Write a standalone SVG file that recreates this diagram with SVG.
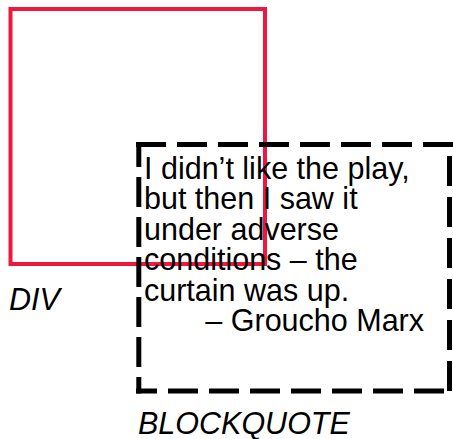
<svg xmlns="http://www.w3.org/2000/svg" width="453" height="439" viewBox="0 0 453 439">
<style>
.lbl{font-family:"Liberation Sans",Arial,sans-serif;font-size:30.5px;font-style:italic;fill:#000}
.q{font-family:"Liberation Sans",Arial,sans-serif;font-size:30.5px;fill:#000}
.dash{stroke:#000;stroke-width:5;fill:none}
</style>
<g id="div">
<rect x="10.5" y="9" width="254.5" height="255" fill="none" stroke="#f0173f" stroke-width="4"/>
<text class="lbl" x="9" y="310">DIV</text>
</g>
<g id="blockquote">
<line class="dash" x1="136" y1="144.5" x2="453" y2="144.5" stroke-dasharray="30 11"/>
<line class="dash" x1="136" y1="391" x2="455" y2="391" stroke-dasharray="30 11" stroke-dashoffset="9"/>
<line class="dash" x1="138.8" y1="142" x2="138.8" y2="393.5" stroke-dasharray="30 10" stroke-dashoffset="5"/>
<line class="dash" x1="449.5" y1="156" x2="449.5" y2="393" stroke-dasharray="30 11"/>
<text class="q"><tspan x="144" y="178.5">I didn’t like the play,</tspan><tspan x="144" y="209">but then I saw it</tspan><tspan x="144" y="239.5">under adverse</tspan><tspan x="144" y="270">conditions – the</tspan><tspan x="144" y="300.5">curtain was up.</tspan><tspan x="424" y="331" text-anchor="end">– Groucho Marx</tspan></text>
<text class="lbl" x="138" y="434">BLOCKQUOTE</text>
</g>
<g id="connectors"/>
</svg>
